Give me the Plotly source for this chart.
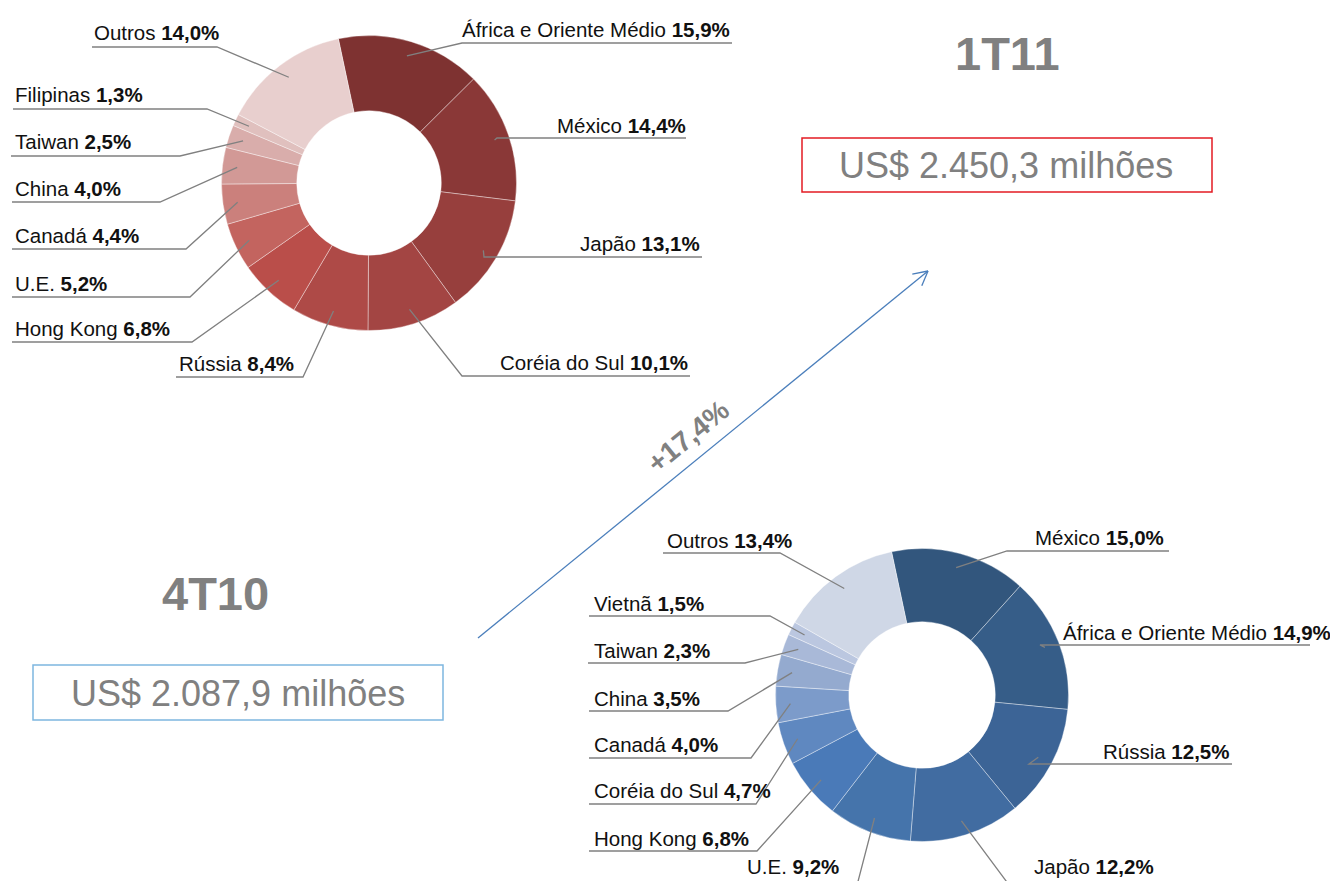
import math
import plotly.graph_objects as go

W, H = 1338, 881
OFF = 8  # page body margin
FONT = "Liberation Sans Narrow, Arial Narrow, Liberation Sans, Arial, sans-serif"

# 1T11 (red donut)
red_names = ["África e Oriente Médio", "México", "Japão", "Coréia do Sul", "Rússia", "Hong Kong",
             "U.E.", "Canadá", "China", "Taiwan", "Filipinas", "Outros"]
red_values = [15.9, 14.4, 13.1, 10.1, 8.4, 6.8, 5.2, 4.4, 4.0, 2.5, 1.3, 14.0]
red_colors = ["#7e3231", "#8a3837", "#973f3d", "#a34543", "#ae4a47", "#ba4e4a",
              "#c3645f", "#cb807c", "#d29996", "#d9adab", "#e0c0be", "#e8cfce"]

# 4T10 (blue donut)
blue_names = ["México", "África e Oriente Médio", "Rússia", "Japão", "U.E.", "Hong Kong",
              "Coréia do Sul", "Canadá", "China", "Taiwan", "Vietnã", "Outros"]
blue_values = [15.0, 14.9, 12.5, 12.2, 9.2, 6.8, 4.7, 4.0, 3.5, 2.3, 1.5, 13.4]
blue_colors = ["#32567d", "#365d88", "#3c6496", "#416ca1", "#4574ab", "#4a7ab8",
               "#5f88c0", "#7c9bca", "#94aacf", "#a9b9d8", "#bbc7e0", "#cfd7e6"]

# label layout in pixels: (text x, xanchor, text y, underline y, underline x0, x1, elbow side)
red_layout = [
    (732, "right", 29, 43, 462, 732, "L"),
    (688, "right", 125, 138, 497, 686, "L"),
    (702, "right", 243, 257, 484, 702, "L"),
    (690, "right", 362, 376, 462, 690, "L"),
    (177, "left", 363, 377, 176, 303, "R"),
    (13, "left", 328, 342, 12, 192, "R"),
    (13, "left", 283, 297, 12, 190, "R"),
    (13, "left", 235, 249, 12, 186, "R"),
    (13, "left", 188, 202, 12, 160, "R"),
    (13, "left", 142, 156, 11, 180, "R"),
    (13, "left", 95, 109, 13, 207, "R"),
    (92, "left", 32, 47, 92, 217, "R"),
]
blue_layout = [
    (1166, "right", 537, 551, 1007, 1169, "L"),
    (1333, "right", 632, 645, 1040, 1310, "L"),
    (1232, "right", 751, 764, 1029, 1232, "L"),
    (1032, "left", 866, 893, 1015, 1160, "L"),
    (745, "left", 866, 893, 745, 855, "R"),
    (592, "left", 838, 851, 589, 757, "R"),
    (592, "left", 790, 804, 589, 756, "R"),
    (592, "left", 744, 758, 589, 751, "R"),
    (592, "left", 698, 711, 589, 728, "R"),
    (592, "left", 650, 663, 588, 745, "R"),
    (592, "left", 603, 616, 589, 770, "R"),
    (665, "left", 540, 553, 663, 780, "R"),
]


def px(x):
    return (x - OFF) / W


def py(y):
    return 1 - (y - OFF) / H


fig = go.Figure()
shapes = []
annotations = []


def donut(names, values, colors, layout, cx, cy, r, hole, rotation):
    fig.add_trace(go.Pie(
        labels=names, values=values, sort=False, direction="clockwise", rotation=rotation,
        hole=hole, textinfo="none", hoverinfo="label+percent", showlegend=False,
        marker=dict(colors=colors, line=dict(color="rgba(255,255,255,0.55)", width=0.7)),
        domain=dict(x=[px(cx - r), px(cx + r)], y=[py(cy + r), py(cy - r)]),
    ))
    total = sum(values)
    cum = 0
    for name, v, lay in zip(names, values, layout):
        mid = rotation + (cum + v / 2) / total * 360
        cum += v
        a = math.radians(mid)
        ax = cx + 0.9 * r * math.sin(a)
        ay = cy - 0.9 * r * math.cos(a)
        tx, xanchor, ty, uy, ux0, ux1, side = lay
        pct = f"{v:.1f}".replace(".", ",")
        annotations.append(dict(
            x=px(tx), y=py(ty), xref="paper", yref="paper", xanchor=xanchor, yanchor="middle",
            text=f"{name} <b>{pct}%</b>", showarrow=False,
            font=dict(family=FONT, size=20.5, color="#111111"),
        ))
        if side == "R":
            far, elbow = ux0, ux1
        else:
            far, elbow = ux1, ux0
        shapes.append(dict(
            type="path", xref="paper", yref="paper",
            path=f"M {px(far)},{py(uy)} L {px(elbow)},{py(uy)} L {px(ax)},{py(ay)}",
            line=dict(color="#808080", width=1.3),
        ))


donut(red_names, red_values, red_colors, red_layout, 369, 183, 147.5, 0.49, -12)
donut(blue_names, blue_values, blue_colors, blue_layout, 922, 695, 146.5, 0.5, -12)

# growth arrow
x0, y0, x1, y1 = 478, 638, 928, 271
shapes.append(dict(type="line", xref="paper", yref="paper",
                   x0=px(x0), y0=py(y0), x1=px(x1), y1=py(y1),
                   line=dict(color="#4a7ebb", width=1.3)))
d = math.hypot(x1 - x0, y1 - y0)
bx, by = (x0 - x1) / d, (y0 - y1) / d
for s in (1, -1):
    t = math.radians(28 * s)
    hx = x1 + 16 * (bx * math.cos(t) - by * math.sin(t))
    hy = y1 + 16 * (bx * math.sin(t) + by * math.cos(t))
    shapes.append(dict(type="line", xref="paper", yref="paper",
                       x0=px(x1), y0=py(y1), x1=px(hx), y1=py(hy),
                       line=dict(color="#4a7ebb", width=1.3)))
annotations.append(dict(x=px(688), y=py(436), xref="paper", yref="paper", text="<b>+17,4%</b>",
                        showarrow=False, textangle=-39.3, xanchor="center", yanchor="middle",
                        font=dict(family=FONT, size=28, color="#808080")))

# period titles and totals
title_font = dict(family=FONT, size=47, color="#808080")
total_font = dict(family=FONT, size=36, color="#808080")
annotations += [
    dict(x=px(1007), y=py(54), xref="paper", yref="paper", text="<b>1T11</b>", showarrow=False,
         xanchor="center", yanchor="middle", font=title_font),
    dict(x=px(216), y=py(593), xref="paper", yref="paper", text="<b>4T10</b>", showarrow=False,
         xanchor="center", yanchor="middle", font=title_font),
    dict(x=px(1006), y=py(166), xref="paper", yref="paper", text="US$ 2.450,3 milhões",
         showarrow=False, xanchor="center", yanchor="middle", font=total_font),
    dict(x=px(238), y=py(693), xref="paper", yref="paper", text="US$ 2.087,9 milhões",
         showarrow=False, xanchor="center", yanchor="middle", font=total_font),
]
shapes += [
    dict(type="rect", xref="paper", yref="paper", x0=px(802), x1=px(1212), y0=py(192), y1=py(138),
         line=dict(color="#e31b23", width=1.5)),
    dict(type="rect", xref="paper", yref="paper", x0=px(33), x1=px(443), y0=py(720), y1=py(665),
         line=dict(color="#7eb6e0", width=1.5)),
]

fig.update_layout(
    width=W, height=H, margin=dict(l=0, r=0, t=0, b=0),
    paper_bgcolor="white", plot_bgcolor="white",
    shapes=shapes, annotations=annotations,
)
fig.write_html("out.html")
